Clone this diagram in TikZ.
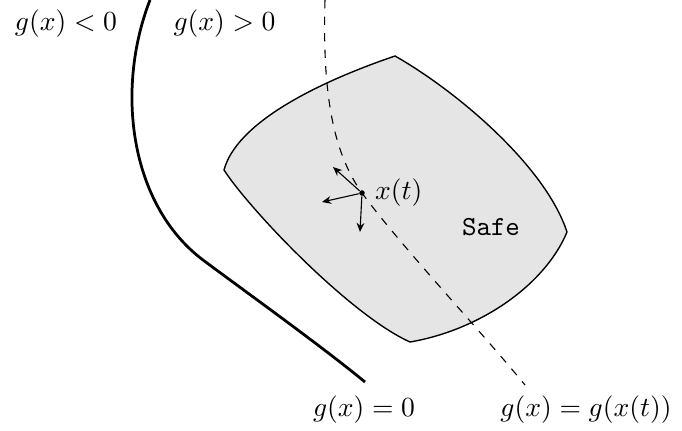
\documentclass[tikz,border=0pt]{standalone}
\usepackage{tikz}
\usetikzlibrary{arrows.meta, positioning}

\begin{document}
\begin{tikzpicture}[
    x=0.3623pt, y=-0.3623pt,
    saferegion/.style={draw=black, line width=0.5pt, fill=black!10},
    boundary/.style={line width=1pt},
    levelset/.style={dashed, line width=0.4pt},
    velocity/.style={-{Stealth[length=3.3pt, width=2.8pt]}, line width=0.4pt},
    statedot/.style={circle, fill=black, inner sep=0pt, minimum size=2pt}
]
\useasboundingbox (0,0) rectangle (682,431);

\draw[saferegion] (224,170) .. controls (236,125) and (310,85) .. (395,56)
    .. controls (455,90) and (545,165) .. (567,232)
    .. controls (545,285) and (480,330) .. (410,342)
    .. controls (350,315) and (250,210) .. cycle;

\draw[boundary] (150,0) .. controls (115,90) and (130,205) .. (203,260)
    .. controls (250,295) and (320,345) .. (365,382);

\draw[levelset] (325,0) .. controls (322,100) and (335,155) .. (362,193)
    .. controls (400,245) and (480,330) .. (525,385);

\node[statedot] (xt) at (362,193) {};
\node[right=0pt of xt] (xtlabel) {$x(t)$};

\coordinate (v1) at (333,167);
\coordinate (v2) at (322,202);
\coordinate (v3) at (360,232);

\draw[velocity] (xt) -- (v1);
\draw[velocity] (xt) -- (v2);
\draw[velocity] (xt) -- (v3);

\node (safe) at (491,227) {\texttt{Safe}};

\node (neg) at (66,24) {$g(x) < 0$};
\node (pos) at (224.5,24) {$g(x) > 0$};
\node (zero) at (364,410) {$g(x) = 0$};
\node (level) at (586,410) {$g(x) = g(x(t))$};

\end{tikzpicture}
\end{document}
